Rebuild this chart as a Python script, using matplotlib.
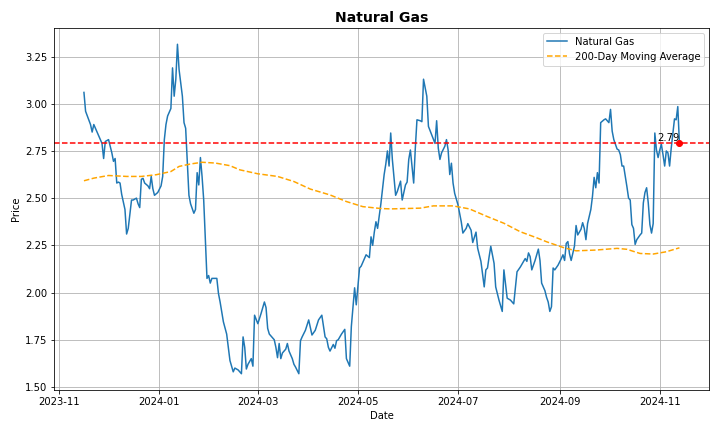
import matplotlib
matplotlib.use("Agg")
import matplotlib.pyplot as plt
import pandas as pd

price_dates = [
    "2023-11-16","2023-11-17","2023-11-20","2023-11-21","2023-11-22","2023-11-24","2023-11-26","2023-11-27","2023-11-28","2023-11-29","2023-11-30",
    "2023-12-01","2023-12-03","2023-12-04","2023-12-05","2023-12-06","2023-12-07","2023-12-08","2023-12-09","2023-12-11","2023-12-12","2023-12-13","2023-12-15","2023-12-16","2023-12-18","2023-12-19","2023-12-20","2023-12-21","2023-12-22","2023-12-23","2023-12-25","2023-12-26","2023-12-27","2023-12-28","2023-12-29","2023-12-31",
    "2024-01-02","2024-01-03","2024-01-04","2024-01-05","2024-01-06","2024-01-08","2024-01-09","2024-01-10","2024-01-11","2024-01-12","2024-01-13","2024-01-15","2024-01-16","2024-01-17","2024-01-18","2024-01-19","2024-01-20","2024-01-22","2024-01-23","2024-01-24","2024-01-25","2024-01-26","2024-01-27","2024-01-28","2024-01-30","2024-01-31",
    "2024-02-01","2024-02-02","2024-02-05","2024-02-06","2024-02-07","2024-02-09","2024-02-11","2024-02-13","2024-02-15","2024-02-16","2024-02-18","2024-02-20","2024-02-21","2024-02-22","2024-02-23","2024-02-24","2024-02-26","2024-02-27","2024-02-28",
    "2024-03-01","2024-03-03","2024-03-05","2024-03-06","2024-03-07","2024-03-08","2024-03-11","2024-03-12","2024-03-13","2024-03-14","2024-03-15","2024-03-16","2024-03-18","2024-03-19","2024-03-20","2024-03-22","2024-03-23","2024-03-24","2024-03-26","2024-03-27","2024-03-28","2024-03-30",
    "2024-04-01","2024-04-03","2024-04-05","2024-04-07","2024-04-09","2024-04-11","2024-04-12","2024-04-13","2024-04-14","2024-04-16","2024-04-17","2024-04-18","2024-04-19","2024-04-21","2024-04-23","2024-04-24","2024-04-26","2024-04-27","2024-04-29","2024-04-30",
    "2024-05-02","2024-05-03","2024-05-05","2024-05-06","2024-05-08","2024-05-09","2024-05-10","2024-05-11","2024-05-12","2024-05-13","2024-05-15","2024-05-17","2024-05-18","2024-05-19","2024-05-20","2024-05-21","2024-05-22","2024-05-24","2024-05-25","2024-05-27","2024-05-28","2024-05-30","2024-05-31",
    "2024-06-01","2024-06-02","2024-06-04","2024-06-05","2024-06-06","2024-06-08","2024-06-09","2024-06-10","2024-06-12","2024-06-13","2024-06-15","2024-06-17","2024-06-18","2024-06-19","2024-06-20","2024-06-21","2024-06-23","2024-06-24","2024-06-25","2024-06-26","2024-06-27","2024-06-28","2024-06-29",
    "2024-07-01","2024-07-02","2024-07-03","2024-07-04","2024-07-06","2024-07-07","2024-07-09","2024-07-10","2024-07-12","2024-07-13","2024-07-15","2024-07-17","2024-07-18","2024-07-19","2024-07-20","2024-07-21","2024-07-23","2024-07-24","2024-07-26","2024-07-28","2024-07-29","2024-07-31",
    "2024-08-02","2024-08-04","2024-08-06","2024-08-08","2024-08-10","2024-08-11","2024-08-12","2024-08-13","2024-08-14","2024-08-15","2024-08-17","2024-08-19","2024-08-20","2024-08-21","2024-08-23","2024-08-24","2024-08-25","2024-08-26","2024-08-27","2024-08-28","2024-08-29","2024-08-31",
    "2024-09-02","2024-09-03","2024-09-04","2024-09-05","2024-09-06","2024-09-07","2024-09-08","2024-09-10","2024-09-11","2024-09-12","2024-09-14","2024-09-15","2024-09-16","2024-09-17","2024-09-18","2024-09-20","2024-09-21","2024-09-22","2024-09-23","2024-09-24","2024-09-25","2024-09-26","2024-09-28","2024-09-29",
    "2024-10-01","2024-10-02","2024-10-03","2024-10-04","2024-10-06","2024-10-07","2024-10-08","2024-10-09","2024-10-10","2024-10-11","2024-10-12","2024-10-13","2024-10-14","2024-10-15","2024-10-16","2024-10-17","2024-10-18","2024-10-20","2024-10-21","2024-10-22","2024-10-23","2024-10-24","2024-10-25","2024-10-26","2024-10-27","2024-10-28","2024-10-29","2024-10-30","2024-10-31",
    "2024-11-01","2024-11-02","2024-11-03","2024-11-04","2024-11-05","2024-11-06","2024-11-07","2024-11-08","2024-11-09","2024-11-10","2024-11-11","2024-11-12","2024-11-13",
]

price_values = [
    3.06,2.96,2.89,2.85,2.89,2.85,2.81,2.79,2.71,2.80,2.805,
    2.81,2.74,2.695,2.71,2.58,2.585,2.58,2.52,2.44,2.31,2.34,2.49,2.49,2.50,2.47,2.45,2.60,2.605,2.58,2.565,2.55,2.615,2.55,2.515,2.53,
    2.565,2.615,2.81,2.89,2.935,2.975,3.19,3.04,3.13,3.315,3.18,3.04,2.90,2.87,2.69,2.515,2.47,2.42,2.44,2.635,2.57,2.715,2.615,2.49,2.075,2.09,
    2.05,2.075,2.075,1.995,1.95,1.845,1.78,1.64,1.58,1.60,1.59,1.57,1.765,1.71,1.595,1.62,1.65,1.61,1.88,
    1.835,1.89,1.95,1.92,1.81,1.78,1.75,1.71,1.655,1.73,1.65,1.68,1.70,1.73,1.69,1.65,1.62,1.605,1.57,1.745,1.765,1.80,
    1.855,1.775,1.80,1.855,1.88,1.765,1.755,1.71,1.69,1.725,1.705,1.745,1.75,1.78,1.805,1.65,1.61,1.82,2.025,1.935,
    2.13,2.14,2.18,2.20,2.185,2.295,2.25,2.32,2.375,2.34,2.47,2.625,2.68,2.75,2.67,2.845,2.705,2.515,2.535,2.59,2.49,2.57,2.585,
    2.705,2.755,2.58,2.765,2.915,2.91,2.905,3.13,3.04,2.88,2.835,2.79,2.91,2.765,2.705,2.74,2.775,2.81,2.755,2.625,2.685,2.58,2.525,
    2.465,2.42,2.375,2.315,2.34,2.365,2.33,2.265,2.32,2.235,2.165,2.03,2.12,2.13,2.19,2.245,2.155,2.03,1.96,1.90,2.12,1.97,
    1.96,1.94,2.11,2.135,2.165,2.18,2.165,2.21,2.19,2.12,2.17,2.23,2.17,2.05,2.01,1.975,1.95,1.90,1.925,2.13,2.12,2.145,
    2.18,2.20,2.17,2.26,2.27,2.205,2.17,2.245,2.355,2.305,2.335,2.37,2.34,2.28,2.365,2.44,2.51,2.61,2.555,2.635,2.58,2.90,2.915,2.92,
    2.90,2.97,2.855,2.81,2.76,2.755,2.73,2.67,2.67,2.615,2.56,2.50,2.49,2.36,2.34,2.255,2.28,2.305,2.315,2.475,2.53,2.555,2.475,2.36,2.315,2.365,2.845,2.755,2.715,
    2.755,2.785,2.73,2.67,2.75,2.74,2.67,2.765,2.845,2.92,2.915,2.985,2.79,
]

ma_dates = [
    "2023-11-16","2023-11-22","2023-12-01","2023-12-12","2023-12-21","2023-12-30",
    "2024-01-08","2024-01-13","2024-01-20","2024-01-27","2024-02-04","2024-02-13",
    "2024-02-19","2024-03-01","2024-03-13","2024-03-23","2024-04-02","2024-04-14",
    "2024-04-24","2024-05-04","2024-05-15","2024-05-21","2024-06-08","2024-06-16",
    "2024-06-28","2024-07-08","2024-07-19","2024-07-29","2024-08-08","2024-08-18",
    "2024-08-24","2024-09-03","2024-09-11","2024-09-23","2024-10-06","2024-10-12",
    "2024-10-20","2024-10-28","2024-11-05","2024-11-13",
]
ma_values = [
    2.592,2.606,2.620,2.615,2.615,2.624,
    2.641,2.668,2.681,2.690,2.686,2.672,
    2.650,2.629,2.615,2.588,2.548,2.517,
    2.482,2.455,2.445,2.443,2.447,2.459,
    2.459,2.443,2.402,2.367,2.322,2.290,
    2.269,2.239,2.221,2.225,2.234,2.229,
    2.207,2.204,2.216,2.237,
]

current_price = 2.79

px = pd.to_datetime(price_dates)
mx = pd.to_datetime(ma_dates)

fig, ax = plt.subplots(figsize=(10, 6), dpi=72)
ax.plot(px, price_values, color="#1f77b4", linewidth=1.5, label="Natural Gas")
ax.plot(mx, ma_values, color="orange", linestyle="--", linewidth=1.5, label="200-Day Moving Average")
ax.axhline(current_price, color="red", linestyle="--", linewidth=1.5)
ax.plot(px[-1], current_price, "ro")
ax.text(px[-1], current_price, f"{current_price:.2f}", ha="right", va="bottom", fontsize=10)

ax.set_title("Natural Gas", fontsize=14, fontweight="bold")
ax.set_xlabel("Date")
ax.set_ylabel("Price")
ax.grid(True)
ax.legend(loc="upper right")
fig.tight_layout()
fig.savefig("out.png", dpi=72)
